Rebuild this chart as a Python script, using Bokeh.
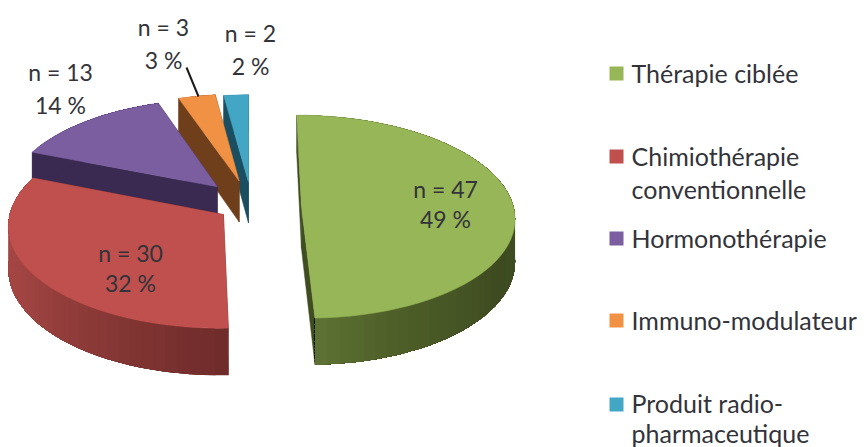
import numpy as np
from bokeh.plotting import figure
from bokeh.models import Range1d
from bokeh.core.properties import value
from bokeh.embed import file_html
from bokeh.resources import INLINE

# --- data
categories = ["Thérapie ciblée", "Chimiothérapie conventionnelle", "Hormonothérapie",
              "Immuno-modulateur", "Produit radio-pharmaceutique"]
counts = [47, 30, 13, 3, 2]
percents = [49, 32, 14, 3, 2]

# --- styles
top_colors = ["#97b657", "#c0504d", "#7b5ea0", "#f09144", "#42a6c4"]
cut_colors = ["#3f4d20", "#6e2b2a", "#3a2a52", "#6f3f1c", "#1b4e60"]
wall_stops = [
    [(0, "#46552a"), (120, "#3e4b21"), (160, "#4f6029"), (180, "#5f7435")],
    [(178, "#6e2b2a"), (200, "#7f3432"), (240, "#a04442"), (292, "#a84a47")],
    [(291, "#3a2a52"), (341, "#3a2a52")],
    [(341, "#6f3f1c"), (353, "#6f3f1c")],
    [(352, "#1b4e60"), (360, "#1b4e60")],
]
text_color = "#33333a"
font = "Lato"

# --- layout of the projected pie
X0, Y0, A, B, H, K = 249.0, 206.0, 212.0, 100.5, 42.0, 0.10
explode_u = [0.245, -0.122, -0.155, -0.05, -0.005]
explode_v = [0.0, -0.08, 0.20, 0.26, 0.25]
label_x = [445, 130, 60, 163, 250]
label_y = [188, 252, 71, 26, 32]
label_gap = [30, 30, 33, 33, 33]
legend_y = [[72], [155, 188], [237], [319], [402, 432]]
legend_lines = [["Thérapie ciblée"], ["Chimiothérapie", "conventionnelle"], ["Hormonothérapie"],
                ["Immuno-modulateur"], ["Produit radio-", "pharmaceutique"]]
legend_square_y = [73, 156, 238, 320, 404]


def project(u, v, z=0.0):
    u, v = np.asarray(u, float), np.asarray(v, float)
    s = 1.0 / (1.0 + K * v)
    return X0 + A * u * s, Y0 - B * v * s + H * z * s


def hex_rgb(c):
    return np.array([int(c[i:i + 2], 16) for i in (1, 3, 5)], float)


def wall_color(stops, t):
    ts = [p[0] for p in stops]
    rgb = [hex_rgb(p[1]) for p in stops]
    return "#%02x%02x%02x" % tuple(int(round(np.interp(t, ts, [c[i] for c in rgb]))) for i in range(3))


W, Ht = 866, 447
p = figure(width=W, height=Ht, output_backend="svg", toolbar_location=None,
           x_range=Range1d(0, W), y_range=Range1d(Ht, 0), min_border=0,
           outline_line_color=None, background_fill_color="white")
p.xaxis.visible = False
p.yaxis.visible = False
p.grid.visible = False

edges = np.concatenate([[0.0], np.cumsum(counts) / np.sum(counts) * 360.0])

for i in reversed(range(len(counts))):
    t0, t1 = edges[i], edges[i + 1]
    ts = np.linspace(t0, t1, max(int((t1 - t0) / 3), 2) + 1)
    rim_u = explode_u[i] + np.sin(np.radians(ts))
    rim_v = explode_v[i] + np.cos(np.radians(ts))
    au, av = explode_u[i], explode_v[i]

    # cut faces
    for j in (0, -1):
        xa, ya = project([au, rim_u[j]], [av, rim_v[j]], 0)
        xb, yb = project([rim_u[j], au], [rim_v[j], av], 1)
        p.patch(list(xa) + list(xb), list(ya) + list(yb), fill_color=cut_colors[i],
                line_color=cut_colors[i], line_width=0.5)

    # outer wall: each step reaches to the far end and the next one paints over it, so no seams
    xs, ys, cols = [], [], []
    for j in range(len(ts) - 1):
        xa, ya = project(rim_u[j:], rim_v[j:], 0)
        xb, yb = project(rim_u[j:][::-1], rim_v[j:][::-1], 1)
        xs.append(list(xa) + list(xb))
        ys.append(list(ya) + list(yb))
        cols.append(wall_color(wall_stops[i], (ts[j] + ts[j + 1]) / 2))
    p.patches(xs, ys, fill_color=cols, line_color=None)

    # top
    xt, yt = project(np.r_[au, rim_u], np.r_[av, rim_v], 0)
    p.patch(list(xt), list(yt), fill_color=top_colors[i], line_color=top_colors[i], line_width=0.5)

# leader of the small slice
p.line([186, 198], [67, 96], line_color="#1a1a1a", line_width=2)

# data labels
lx, ly, lt = [], [], []
for i in range(len(counts)):
    lx += [label_x[i], label_x[i]]
    ly += [label_y[i], label_y[i] + label_gap[i]]
    lt += [f"n = {counts[i]}", f"{percents[i]} %"]
p.text(lx, ly, text=lt, text_font=value(font), text_font_size="23px", text_color=text_color,
       text_align="center", text_baseline="middle")

# legend
for i, lines in enumerate(legend_lines):
    p.scatter([616], [legend_square_y[i]], marker="square", size=14, fill_color=top_colors[i], line_color=None)
    p.text([631] * len(lines), legend_y[i], text=lines, text_font=value(font), text_font_size="25px",
           text_color=text_color, text_align="left", text_baseline="middle")

open("out.html", "w").write(file_html(p, INLINE))
